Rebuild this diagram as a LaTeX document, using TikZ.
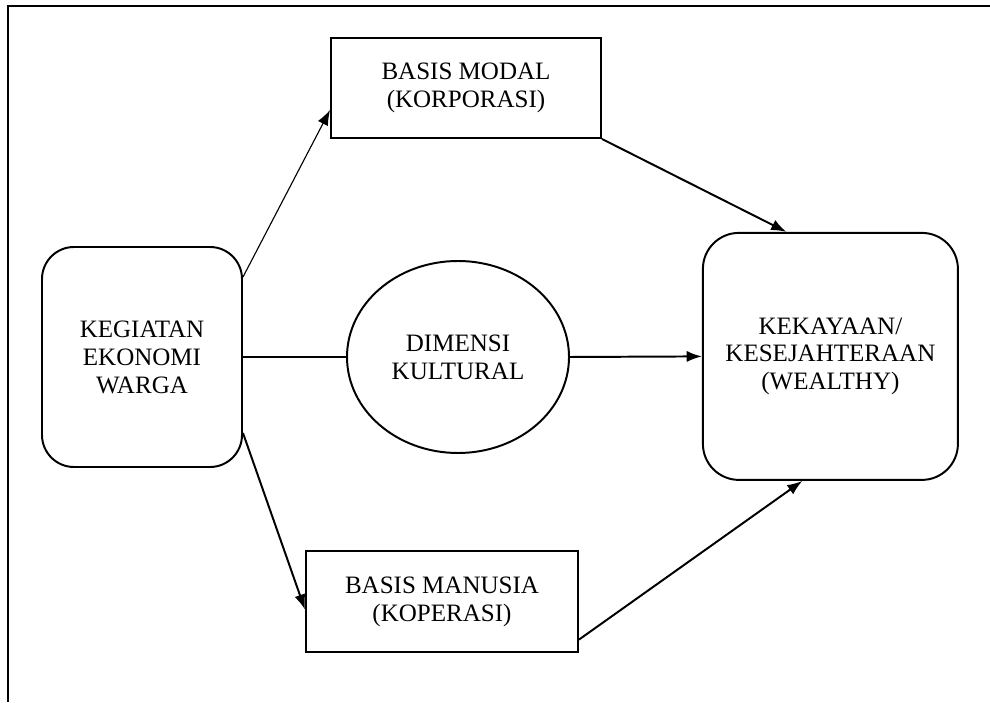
\documentclass[tikz,border=0pt]{standalone}
\usepackage{fontspec}
\setmainfont{Liberation Serif}
\usepackage{tikz}
\usetikzlibrary{arrows.meta,shapes.geometric}

\begin{document}
\begin{tikzpicture}[
	kotak/.style={draw,line width=1.4pt,align=center,font=\fontsize{17.8}{19.9}\selectfont},
	kotakbulat/.style={kotak,rounded corners=0.8cm},
	panah/.style={-{Latex[length=0.38cm,width=0.28cm]},line width=1.4pt}]
	\useasboundingbox (0,0) rectangle (24.75,17.55);
	% bingkai
	\draw[line width=1.4pt] (0.2,0) -- (0.2,17.4) -- (24.75,17.4);
	% simpul
	\node[kotakbulat,minimum width=5cm,minimum height=5.5cm] (warga) at (3.55,8.625) {KEGIATAN\\EKONOMI\\WARGA};
	\node[kotak,minimum width=6.75cm,minimum height=2.5cm] (modal) at (11.65,15.35) {BASIS MODAL\\(KORPORASI)};
	\node[kotak,ellipse,minimum width=5.55cm,minimum height=4.8cm] (kultur) at (11.45,8.625) {DIMENSI\\KULTURAL};
	\node[kotak,minimum width=6.8cm,minimum height=2.525cm] (manusia) at (11.05,2.51) {BASIS MANUSIA\\(KOPERASI)};
	\node[kotakbulat,rounded corners=0.9cm,minimum width=6.375cm,minimum height=6.175cm] (kaya) at (20.76,8.64) {KEKAYAAN/\\KESEJAHTERAAN\\(WEALTHY)};
	% panah
	\draw[panah,line width=0.8pt] ([yshift=2cm]warga.east) -- ([yshift=-0.55cm]modal.west);
	\draw[panah] ([yshift=-1.9cm]warga.east) -- ([yshift=-0.2cm]manusia.west);
	\draw[line width=1.4pt] (warga.east) -- (kultur.west);
	\draw[panah] (kultur.east) -- (kaya.west);
	\draw[panah] (modal.south east) -- ([xshift=-1.1cm]kaya.north);
	\draw[panah] ([yshift=-0.95cm]manusia.east) -- ([xshift=-0.7cm]kaya.south);
\end{tikzpicture}
\end{document}
